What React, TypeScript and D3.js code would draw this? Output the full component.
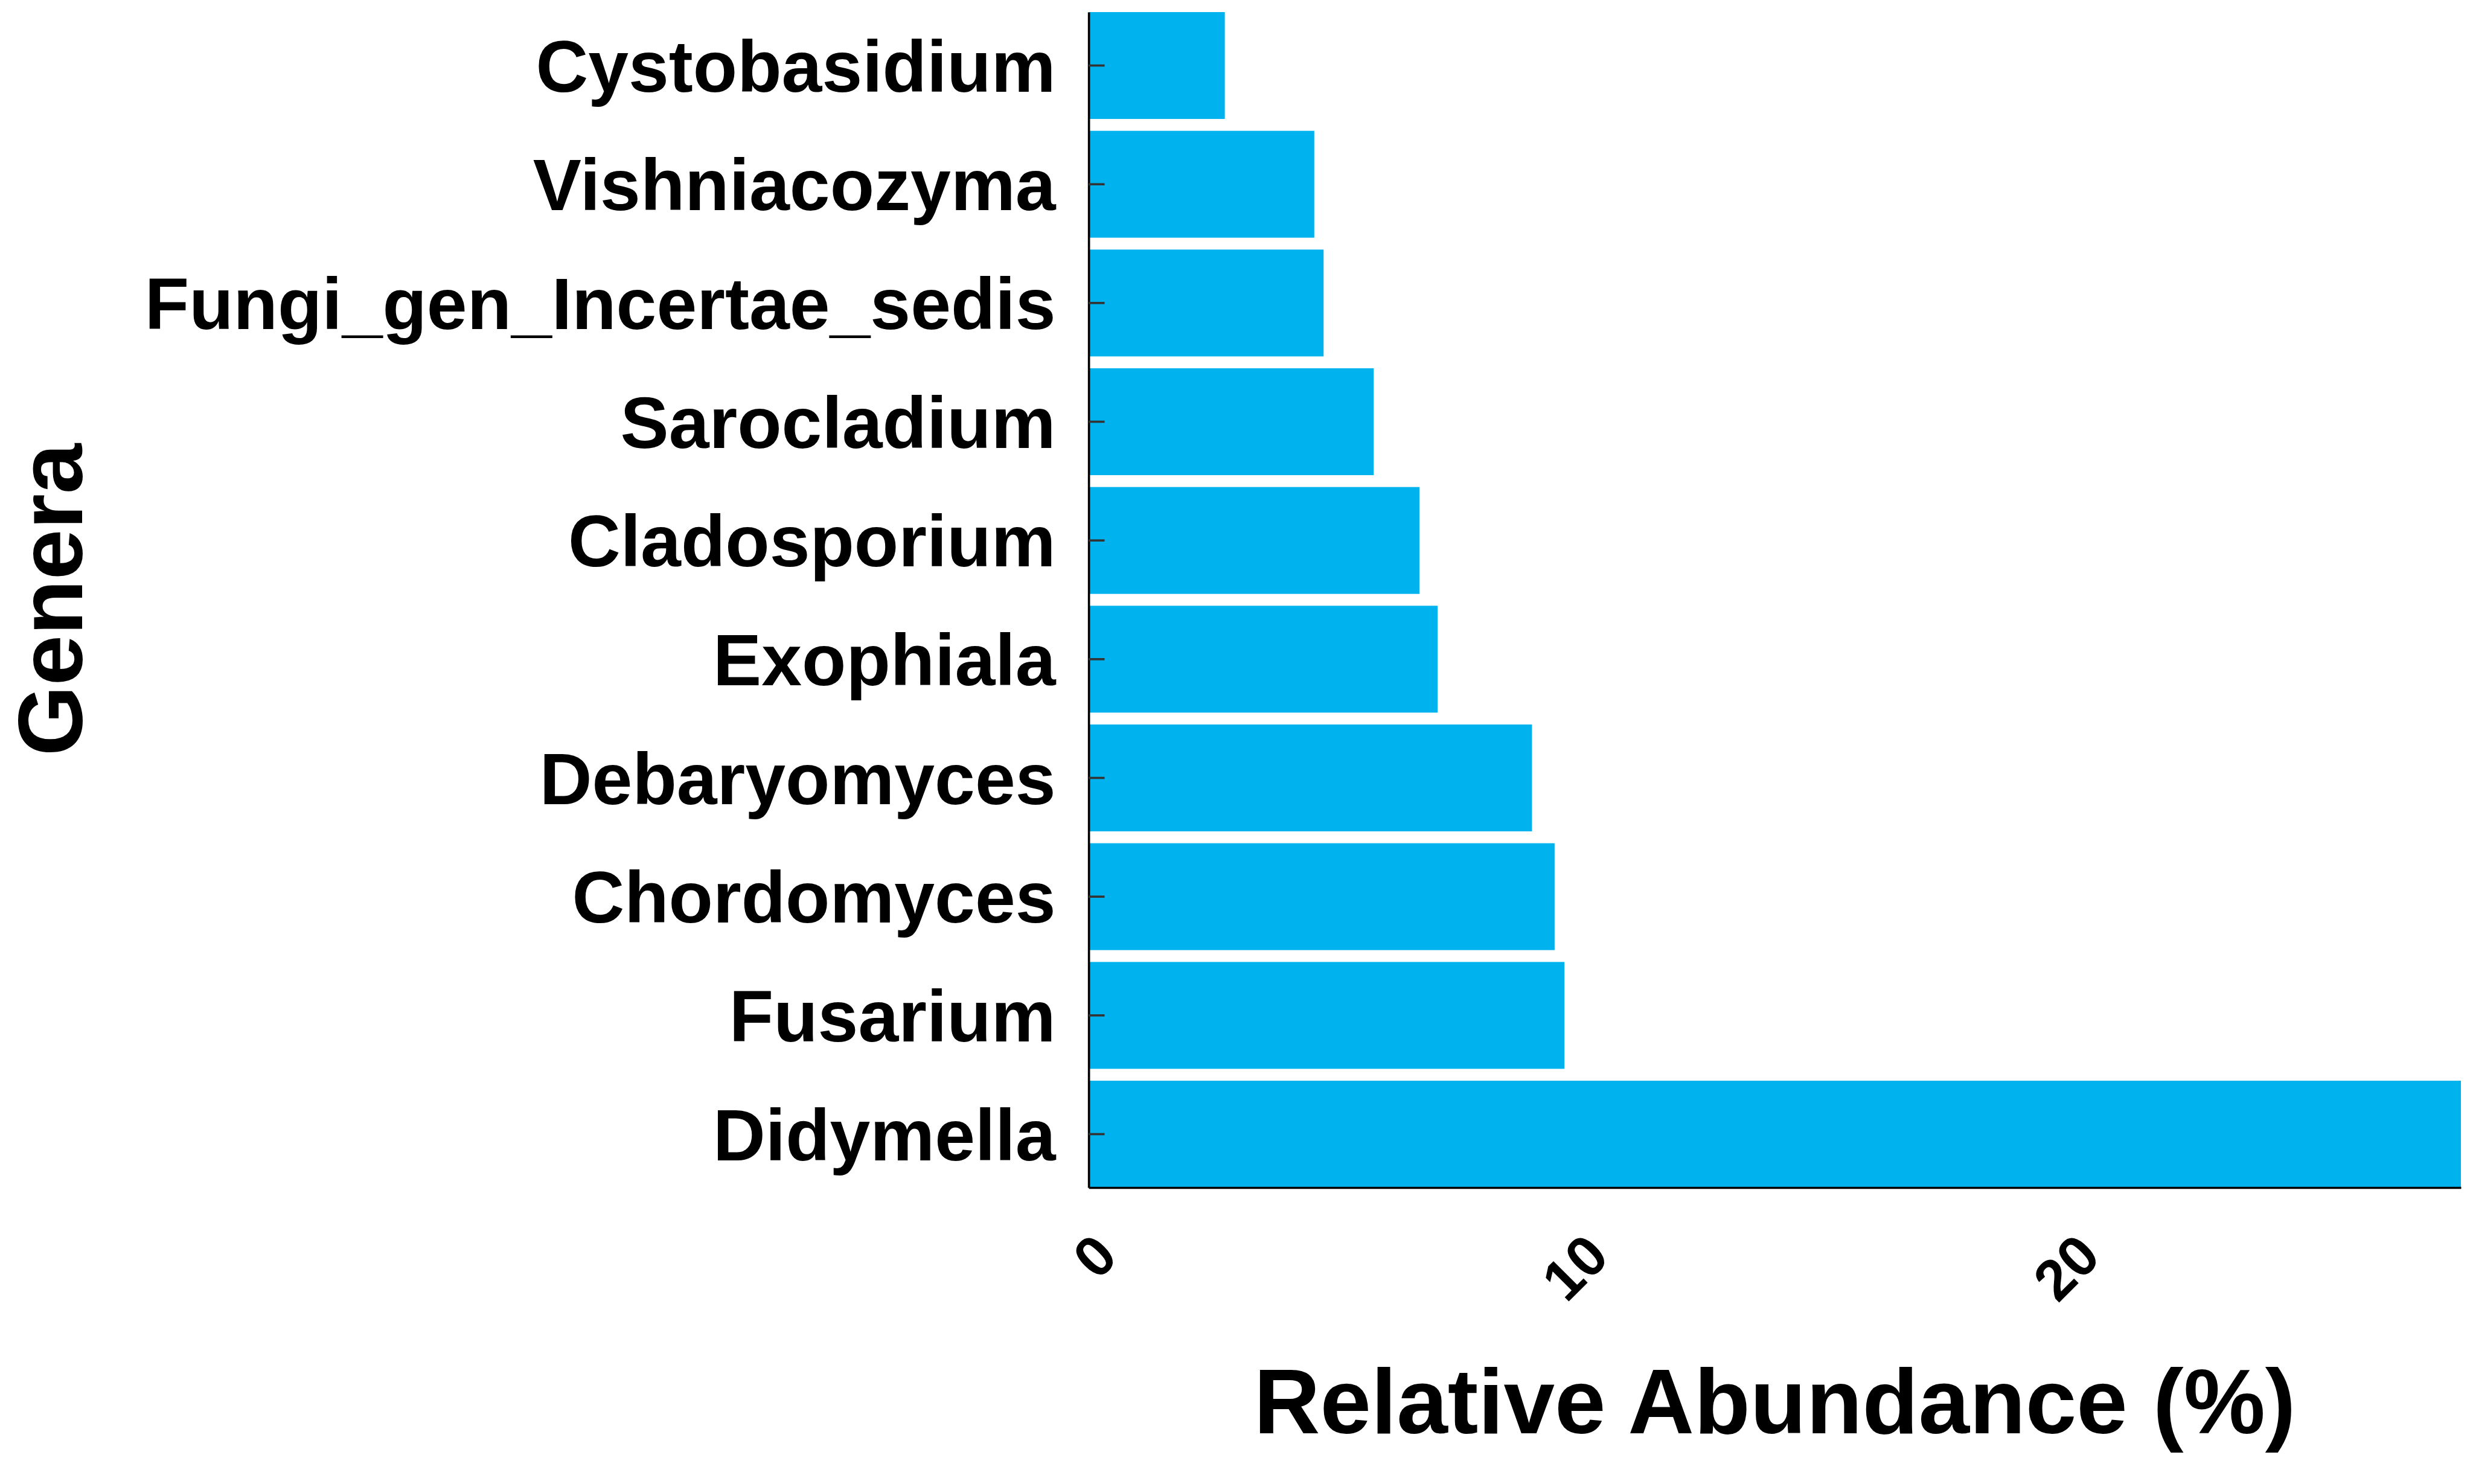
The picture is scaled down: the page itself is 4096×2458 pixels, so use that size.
import React, { useRef, useEffect } from "react";
import * as d3 from "d3";

// Relative abundance of the top fungal genera (%)
const genera = [
  "Cystobasidium",
  "Vishniacozyma",
  "Fungi_gen_Incertae_sedis",
  "Sarocladium",
  "Cladosporium",
  "Exophiala",
  "Debaryomyces",
  "Chordomyces",
  "Fusarium",
  "Didymella",
];
const abundance = [2.77, 4.59, 4.78, 5.8, 6.73, 7.1, 9.02, 9.48, 9.68, 27.92];
const xTicks = [0, 10, 20];

const S = 4096 / 4500;
const FONT = "'Liberation Sans', Arial, Helvetica, sans-serif";

export default function App() {
  const svgRef = useRef<SVGSVGElement>(null);
  const width = 4096;
  const height = 2458;

  useEffect(() => {
    const svg = d3.select(svgRef.current);
    svg.selectAll("*").remove();

    const left = 1981 * S;
    const right = 4478 * S;
    const top = 22 * S;
    const bottom = 2161 * S;

    const data = genera.map((g, i) => ({ genus: g, value: abundance[i] }));

    const x = d3
      .scaleLinear()
      .domain([0, d3.max(abundance) as number])
      .range([left, right]);

    const y = d3
      .scaleBand<string>()
      .domain(genera)
      .range([top, bottom])
      .paddingInner(0.1)
      .paddingOuter(0);

    // bars
    svg
      .append("g")
      .selectAll("rect")
      .data(data)
      .join("rect")
      .attr("x", x(0))
      .attr("y", (d) => y(d.genus) as number)
      .attr("width", (d) => x(d.value) - x(0))
      .attr("height", y.bandwidth())
      .attr("fill", "#00B2EE");

    // y axis, ticks pointing into the panel
    const gy = svg
      .append("g")
      .attr("transform", `translate(${left},0)`)
      .call(
        d3
          .axisLeft(y)
          .tickSizeInner(-29 * S)
          .tickSizeOuter(0)
          .tickPadding(60 * S)
      );
    gy.select(".domain").attr("stroke", "#000").attr("stroke-width", 4 * S);
    gy.selectAll(".tick line").attr("stroke", "#333333").attr("stroke-width", 4 * S);
    gy.selectAll(".tick text")
      .attr("dy", "0.36em")
      .attr("fill", "#000")
      .attr("font-family", FONT)
      .attr("font-weight", "bold")
      .attr("font-size", 132 * S);

    // x axis, rotated labels
    const gx = svg
      .append("g")
      .attr("transform", `translate(0,${bottom})`)
      .call(d3.axisBottom(x).tickValues(xTicks).tickSize(0).tickFormat(d3.format("d")));
    gx.select(".domain").attr("stroke", "#000").attr("stroke-width", 4 * S);
    gx.selectAll(".tick text")
      .attr("x", 0)
      .attr("y", 0)
      .attr("dy", 0)
      .attr("text-anchor", "end")
      .attr("transform", `translate(${56 * S},${130 * S}) rotate(-45)`)
      .attr("fill", "#000")
      .attr("font-family", FONT)
      .attr("font-weight", "bold")
      .attr("font-size", 104 * S);

    // axis titles
    svg
      .append("text")
      .attr("x", (left + right) / 2)
      .attr("y", 2608 * S)
      .attr("text-anchor", "middle")
      .attr("font-family", FONT)
      .attr("font-weight", "bold")
      .attr("font-size", 167 * S)
      .text("Relative Abundance (%)");

    svg
      .append("text")
      .attr("transform", `translate(${149 * S},${(top + bottom) / 2}) rotate(-90)`)
      .attr("text-anchor", "middle")
      .attr("font-family", FONT)
      .attr("font-weight", "bold")
      .attr("font-size", 165 * S)
      .text("Genera");
  }, []);

  return (
    <svg
      ref={svgRef}
      width={width}
      height={height}
      style={{ position: "absolute", left: 0, top: 0, background: "#fff" }}
    />
  );
}
